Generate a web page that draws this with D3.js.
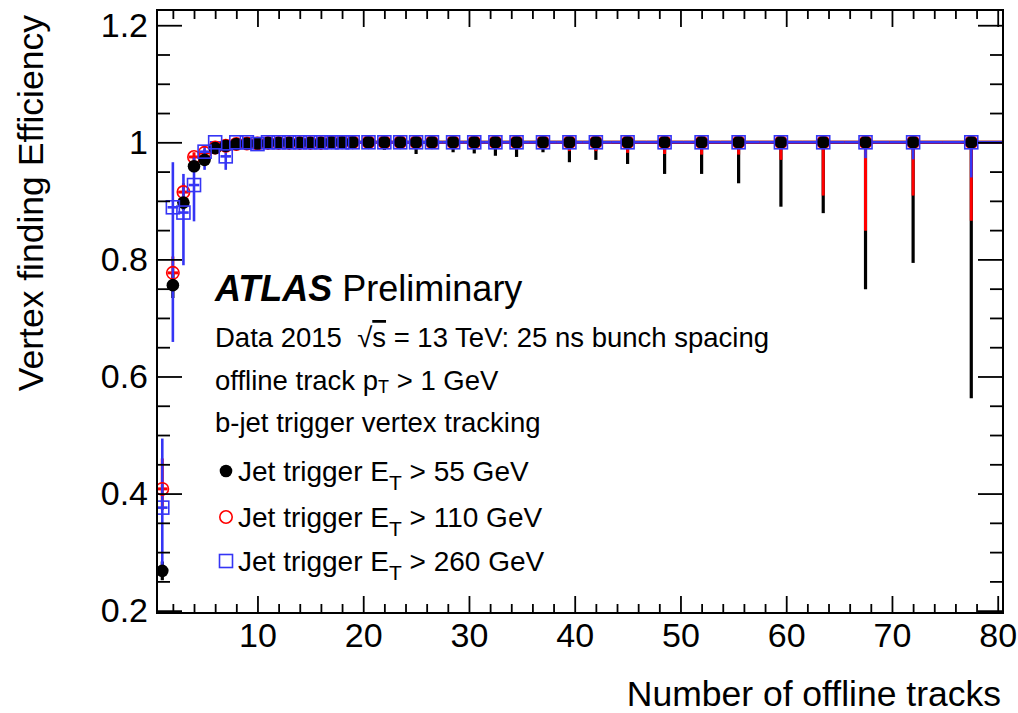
<!DOCTYPE html>
<html>
<head>
<meta charset="utf-8">
<script src="https://cdn.jsdelivr.net/npm/d3@7"></script>
<style>
    body { margin: 0; background: #fff; }
    svg text { font-family: "Liberation Sans", Arial, Helvetica, sans-serif; fill: #000; }
</style>
</head>
<body>
<div id="chart"></div>
<script>
// bin centres (number of offline tracks) and bin edges
const trackBins = [1, 2, 3, 4, 5, 6, 7, 8, 9, 10, 11, 12, 13, 14, 15, 16, 17, 18, 19,
    20.5, 22, 23.5, 25, 26.5, 28.5, 30.5, 32.5, 34.5, 37, 39.5, 42, 45, 48.5, 52, 55.5,
    59.5, 63.5, 67.5, 72, 77.5];
const binEdges = [0.5, 1.5, 2.5, 3.5, 4.5, 5.5, 6.5, 7.5, 8.5, 9.5, 10.5, 11.5, 12.5, 13.5,
    14.5, 15.5, 16.5, 17.5, 18.5, 19.5, 21.25, 22.75, 24.25, 25.75, 27.5, 29.5, 31.5, 33.5,
    35.75, 38.25, 40.75, 43.5, 46.75, 50.25, 53.75, 57.5, 61.5, 65.5, 69.75, 74.75, 80.5];

// Jet trigger ET > 55 GeV
const eff55 = [0.268, 0.756, 0.897, 0.959, 0.970, 0.990, 0.994, 0.997, 0.998, 0.998,
    0.999, 0.999, 0.999, 0.999, 0.999, 0.999, 1.0, 1.0, 1.0,
    1.0, 1.0, 1.0, 1.0, 1.0, 1.0, 1.0, 1.0, 1.0, 1.0, 1.0, 1.0, 1.0, 1.0, 1.0, 1.0,
    1.0, 1.0, 1.0, 1.0, 1.0];
const eff55Lo = [0.016, 0.022, 0.013, 0.008, 0.006, 0.004, 0.003, 0.002, 0.002, 0.002,
    0.001, 0.001, 0.001, 0.001, 0.001, 0.002, 0.002, 0.002, 0.003,
    0.004, 0.013, 0.005, 0.020, 0.005, 0.017, 0.019, 0.023, 0.025, 0.017, 0.034, 0.030,
    0.037, 0.054, 0.054, 0.070, 0.110, 0.121, 0.251, 0.206, 0.437];
const eff55Hi = [0.016, 0.020, 0.011, 0.006, 0.005, 0.003, 0.002, 0.002, 0.001, 0.001,
    0.001, 0.001, 0.001, 0.001, 0.001, 0.001, 0, 0, 0,
    0, 0, 0, 0, 0, 0, 0, 0, 0, 0, 0, 0, 0, 0, 0, 0, 0, 0, 0, 0, 0];

// Jet trigger ET > 110 GeV
const eff110 = [0.408, 0.777, 0.915, 0.975, 0.982, 0.991, 0.994, 0.997, 0.998, 0.998,
    0.999, 0.999, 0.999, 0.999, 0.999, 0.999, 1.0, 1.0, 1.0,
    1.0, 1.0, 1.0, 1.0, 1.0, 1.0, 1.0, 1.0, 1.0, 1.0, 1.0, 1.0, 1.0, 1.0, 1.0, 1.0,
    1.0, 1.0, 1.0, 1.0, 1.0];
const eff110Lo = [0.036, 0.030, 0.018, 0.010, 0.008, 0.005, 0.004, 0.003, 0.002, 0.002,
    0.001, 0.001, 0.001, 0.001, 0.001, 0.001, 0.001, 0.002, 0.002,
    0.003, 0.006, 0.004, 0.008, 0.004, 0.008, 0.010, 0.010, 0.012, 0.010, 0.015, 0.015,
    0.018, 0.020, 0.021, 0.021, 0.030, 0.091, 0.151, 0.091, 0.134];
const eff110Hi = [0.052, 0.028, 0.015, 0.008, 0.006, 0.004, 0.003, 0.002, 0.001, 0.001,
    0.001, 0.001, 0.001, 0.001, 0.001, 0.001, 0, 0, 0,
    0, 0, 0, 0, 0, 0, 0, 0, 0, 0, 0, 0, 0, 0, 0, 0, 0, 0, 0, 0, 0];

// Jet trigger ET > 260 GeV
const eff260 = [0.376, 0.889, 0.880, 0.927, 0.984, 1.0, 0.976, 1.0, 1.0, 0.997,
    1.0, 1.0, 1.0, 1.0, 1.0, 1.0, 1.0, 1.0, 1.0,
    1.0, 1.0, 1.0, 1.0, 1.0, 1.0, 1.0, 1.0, 1.0, 1.0, 1.0, 1.0, 1.0, 1.0, 1.0, 1.0,
    1.0, 1.0, 1.0, 1.0, 1.0];
const eff260Lo = [0.113, 0.230, 0.090, 0.062, 0.031, 0.006, 0.023, 0.004, 0.004, 0.004,
    0.003, 0.003, 0.003, 0.003, 0.003, 0.003, 0.003, 0.003, 0.003,
    0.003, 0.004, 0.003, 0.004, 0.003, 0.005, 0.005, 0.005, 0.006, 0.005, 0.006, 0.006,
    0.007, 0.008, 0.008, 0.009, 0.010, 0.011, 0.027, 0.029, 0.060];
const eff260Hi = [0.118, 0.077, 0.066, 0.047, 0.009, 0, 0.018, 0, 0, 0.002,
    0, 0, 0, 0, 0, 0, 0, 0, 0,
    0, 0, 0, 0, 0, 0, 0, 0, 0, 0, 0, 0, 0, 0, 0, 0, 0, 0, 0, 0, 0];

const yMajorTicks = [0.2, 0.4, 0.6, 0.8, 1.0, 1.2];
const xMajorTicks = [10, 20, 30, 40, 50, 60, 70, 80];

const WIDTH = 1018, HEIGHT = 713;
const margin = {left: 157, right: 15, top: 10, bottom: 100};
const plotW = WIDTH - margin.left - margin.right;
const plotH = HEIGHT - margin.top - margin.bottom;

const svg = d3.select("#chart").append("svg")
    .attr("width", WIDTH)
    .attr("height", HEIGHT);

const g = svg.append("g")
    .attr("transform", "translate(" + margin.left + "," + margin.top + ")");

const x = d3.scaleLinear().domain([0.5, 80.5]).range([0, plotW]);
const y = d3.scaleLinear().domain([0.196, 1.226]).range([plotH, 0]);

function build(vals, lo, hi) {
    return trackBins.map((c, i) => ({
        x: c, y: vals[i], lo: lo[i], hi: hi[i],
        x0: binEdges[i], x1: binEdges[i + 1]
    }));
}

const series = {
    s55: {data: build(eff55, eff55Lo, eff55Hi), color: "#000000", width: 3.2},
    s110: {data: build(eff110, eff110Lo, eff110Hi), color: "#ff0000", width: 3},
    s260: {data: build(eff260, eff260Lo, eff260Hi), color: "#3535f5", width: 2.6}
};

g.append("clipPath").attr("id", "plotclip")
    .append("rect").attr("width", plotW).attr("height", plotH);

const dataLayer = g.append("g").attr("clip-path", "url(#plotclip)");

// error bars: black first, red, blue on top
["s55", "s110", "s260"].forEach((key) => {
    let s = series[key];
    let eg = dataLayer.append("g").attr("class", "err-" + key)
        .attr("stroke", s.color).attr("stroke-width", s.width);
    eg.selectAll(".v").data(s.data).enter().append("line")
        .attr("x1", d => x(d.x)).attr("x2", d => x(d.x))
        .attr("y1", d => y(d.y + d.hi)).attr("y2", d => y(d.y - d.lo));
    eg.selectAll(".h").data(s.data).enter().append("line")
        .attr("x1", d => x(d.x0)).attr("x2", d => x(d.x1))
        .attr("y1", d => y(d.y)).attr("y2", d => y(d.y));
});

// markers
dataLayer.append("g").selectAll("circle").data(series.s110.data).enter().append("circle")
    .attr("cx", d => x(d.x)).attr("cy", d => y(d.y)).attr("r", 6.2)
    .attr("fill", "none").attr("stroke", "#ff0000").attr("stroke-width", 1.6);

dataLayer.append("g").selectAll("circle").data(series.s55.data).enter().append("circle")
    .attr("cx", d => x(d.x)).attr("cy", d => y(d.y)).attr("r", 6.3)
    .attr("fill", "#000");

dataLayer.append("g").selectAll("rect").data(series.s260.data).enter().append("rect")
    .attr("x", d => x(d.x) - 6.5).attr("y", d => y(d.y) - 6.5)
    .attr("width", 13).attr("height", 13)
    .attr("fill", "none").attr("stroke", "#3535f5").attr("stroke-width", 1.6);

// axes, ROOT style ticks pointing inward
const yMinor = d3.range(0.25, 1.22, 0.05).filter(v => Math.abs(v * 5 - Math.round(v * 5)) > 0.01);
const xMinor = d3.range(2, 81, 2).filter(v => v % 10 !== 0);

function styleAxis(sel) {
    sel.select(".domain").remove();
    sel.selectAll("line").attr("stroke", "#000").attr("stroke-width", 1.8);
    sel.selectAll("text").attr("font-size", 34).attr("font-family", "Liberation Sans, Arial, sans-serif");
}

g.append("g")
    .call(d3.axisLeft(y).tickValues(yMajorTicks).tickSizeInner(-25).tickSizeOuter(0)
        .tickPadding(9).tickFormat(d => d === 1 ? "1" : d3.format(".1f")(d)))
    .call(styleAxis);
g.append("g")
    .call(d3.axisLeft(y).tickValues(yMinor).tickSizeInner(-13).tickSizeOuter(0).tickFormat(""))
    .call(styleAxis);
g.append("g").attr("transform", "translate(" + plotW + ",0)")
    .call(d3.axisRight(y).tickValues(yMajorTicks).tickSizeInner(-25).tickSizeOuter(0).tickFormat(""))
    .call(styleAxis);
g.append("g").attr("transform", "translate(" + plotW + ",0)")
    .call(d3.axisRight(y).tickValues(yMinor).tickSizeInner(-13).tickSizeOuter(0).tickFormat(""))
    .call(styleAxis);

g.append("g").attr("transform", "translate(0," + plotH + ")")
    .call(d3.axisBottom(x).tickValues(xMajorTicks).tickSizeInner(-17).tickSizeOuter(0).tickPadding(10))
    .call(styleAxis);
g.append("g").attr("transform", "translate(0," + plotH + ")")
    .call(d3.axisBottom(x).tickValues(xMinor).tickSizeInner(-9).tickSizeOuter(0).tickFormat(""))
    .call(styleAxis);
g.append("g")
    .call(d3.axisTop(x).tickValues(xMajorTicks).tickSizeInner(-17).tickSizeOuter(0).tickFormat(""))
    .call(styleAxis);
g.append("g")
    .call(d3.axisTop(x).tickValues(xMinor).tickSizeInner(-9).tickSizeOuter(0).tickFormat(""))
    .call(styleAxis);

g.append("rect")
    .attr("width", plotW).attr("height", plotH)
    .attr("fill", "none").attr("stroke", "#000").attr("stroke-width", 2);

// axis titles
svg.append("text")
    .attr("x", 1001).attr("y", 706)
    .attr("text-anchor", "end").attr("font-size", 35.5)
    .text("Number of offline tracks");
svg.append("text")
    .attr("transform", "translate(43,15) rotate(-90)")
    .attr("text-anchor", "end").attr("font-size", 35.5)
    .text("Vertex finding Efficiency");

// ATLAS label and info text
let atlas = svg.append("text").attr("x", 215).attr("y", 301).attr("font-size", 36);
atlas.append("tspan").attr("font-weight", "bold").attr("font-style", "italic").text("ATLAS");
atlas.append("tspan").attr("dx", 10).text("Preliminary");

let info1 = svg.append("text").attr("x", 215).attr("y", 347).attr("font-size", 27.5);
info1.append("tspan").text("Data 2015\u00A0\u00A0\u221A");
info1.append("tspan").style("text-decoration", "overline").text("s");
info1.append("tspan").text("\u00A0= 13 TeV: 25 ns bunch spacing");

let info2 = svg.append("text").attr("x", 215).attr("y", 390).attr("font-size", 27.5);
info2.append("tspan").text("offline track p");
info2.append("tspan").attr("font-size", 18).attr("dy", 3).text("T");
info2.append("tspan").attr("dy", -3).text(" > 1 GeV");

svg.append("text").attr("x", 215).attr("y", 432).attr("font-size", 27.5)
    .text("b-jet trigger vertex tracking");

// legend
const legendLabels = ["55", "110", "260"];
const legendY = [471, 517, 561];
legendLabels.forEach((lab, i) => {
    let cy = legendY[i];
    if (i === 0) {
        svg.append("circle").attr("cx", 226).attr("cy", cy).attr("r", 6.3).attr("fill", "#000");
    } else if (i === 1) {
        svg.append("circle").attr("cx", 226).attr("cy", cy).attr("r", 6.2)
            .attr("fill", "none").attr("stroke", "#ff0000").attr("stroke-width", 1.6);
    } else {
        svg.append("rect").attr("x", 219.5).attr("y", cy - 6.5).attr("width", 13).attr("height", 13)
            .attr("fill", "none").attr("stroke", "#3535f5").attr("stroke-width", 1.6);
    }
    let t = svg.append("text").attr("x", 238).attr("y", cy + 10).attr("font-size", 28);
    t.append("tspan").text("Jet trigger E");
    t.append("tspan").attr("font-size", 21).attr("dy", 9).text("T");
    t.append("tspan").attr("dy", -9).text(" > " + lab + " GeV");
});
</script>
</body>
</html>
